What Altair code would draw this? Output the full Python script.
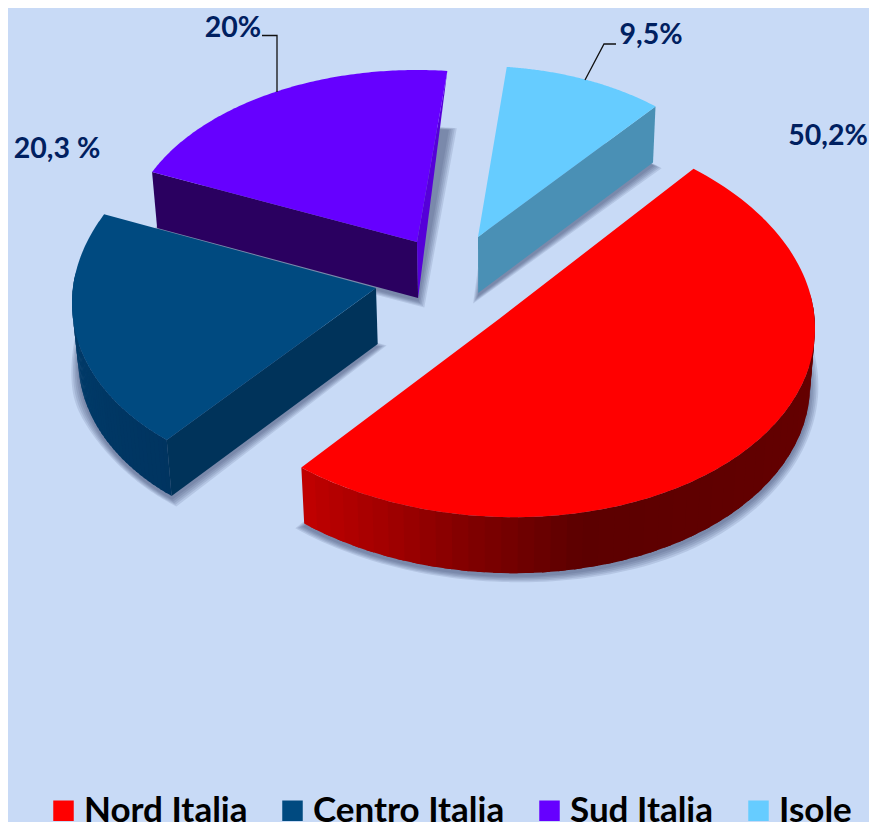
import math
import altair as alt

# --- chart values ---
regions = ["Nord Italia", "Centro Italia", "Sud Italia", "Isole"]
shares = [50.2, 20.3, 20.0, 9.5]
share_labels = ["50,2%", "20,3 %", "20%", "9,5%"]
top_colors = ["#ff0000", "#004a80", "#6600ff", "#66ccff"]

# --- tilted-pie geometry (page px): centre x/y, semi-axes, start angle per slice ---
M = 8
GEOM = {
    "Nord Italia": dict(cx=499, cy=319, a=316, b=198, start=52, shear=0.03),
    "Centro Italia": dict(cx=376, cy=288, a=304, b=195, start=-133.5, shear=-0.05),
    "Sud Italia": dict(cx=417, cy=242, a=290, b=172, start=156, shear=0),
    "Isole": dict(cx=478, cy=237, a=275, b=171, start=84, shear=0),
}
DEPTH = 56
VANISH_X, SHRINK = 490, 0.985
WALLS = {
    "Nord Italia": dict(stops=[(-128, "#c00000"), (-110, "#a00000"), (-95, "#800000"), (-75, "#5c0000"), (0, "#660000"), (60, "#660000")]),
    "Centro Italia": dict(stops=[(-207, "#004070"), (-133, "#003460")], a_face="#00335a"),
    "Sud Italia": dict(stops=[(83, "#2a0060"), (156, "#2a0060")], a_face="#2a0060", b_sliver="#5500d8"),
    "Isole": dict(stops=[(49, "#4a90b5"), (85, "#4a90b5")], b_face="#4a90b5"),
}
DRAW_ORDER = ["Sud Italia", "Isole", "Centro Italia", "Nord Italia"]

label_pos = {"Nord Italia": (828, 136), "Centro Italia": (57, 148.5), "Sud Italia": (233, 27.5), "Isole": (651, 35)}
leaders = [[(262, 35.5), (277, 35.5), (277, 92)], [(616, 44), (604, 44), (585, 80)]]

STEPS = 120     # arc resolution
BAND = 2        # arc steps per wall colour band


def rim(g, deg):
    t = math.radians(deg)
    dx = g["a"] * math.cos(t)
    return (g["cx"] + dx, g["cy"] - g["b"] * math.sin(t) + g["shear"] * dx)


def drop(p):
    return (VANISH_X + (p[0] - VANISH_X) * SHRINK, p[1] + DEPTH)


def hexmix(c1, c2, f):
    a = [int(c1[i:i + 2], 16) for i in (1, 3, 5)]
    b = [int(c2[i:i + 2], 16) for i in (1, 3, 5)]
    return "#%02x%02x%02x" % tuple(round(x + (y - x) * f) for x, y in zip(a, b))


def wall_color(stops, deg):
    stops = sorted(stops)
    if deg <= stops[0][0]:
        return stops[0][1]
    for (d0, c0), (d1, c1) in zip(stops, stops[1:]):
        if deg <= d1:
            return hexmix(c0, c1, (deg - d0) / (d1 - d0))
    return stops[-1][1]


def poly(points, **props):
    ring = [[round(x - M, 2), round(y - M, 2)] for x, y in points]
    ring.append(ring[0])
    return {"type": "Feature", "geometry": {"type": "Polygon", "coordinates": [ring]}, "properties": props}


def grown(points, d):
    mx = sum(p[0] for p in points) / len(points)
    my = sum(p[1] for p in points) / len(points)
    out = []
    for x, y in points:
        r = math.hypot(x - mx, y - my) or 1
        out.append((x + (x - mx) / r * d, y + (y - my) / r * d + 3))
    return out


shadow_features = []
features_by_region = {}
for region, share in zip(regions, shares):
    g = GEOM[region]
    w = WALLS[region]
    span = share * 3.6
    degs = [g["start"] - span * i / STEPS for i in range(STEPS + 1)]
    arc = [rim(g, d) for d in degs]
    apex = (g["cx"], g["cy"])
    outline = [drop(apex)] + [drop(p) for p in arc]
    for d in (9, 7, 5, 3, 1):
        shadow_features.append(poly(grown(outline, d)))
    side = []
    for i in range(0, STEPS, BAND):
        mid = degs[min(i + BAND // 2, STEPS)]
        if math.sin(math.radians(mid)) > 0.15:
            continue                     # far side of the rim is hidden
        seg = arc[i:i + BAND + 2]        # one step of overlap hides the seams
        side.append(poly(seg + [drop(p) for p in reversed(seg)], fill=wall_color(w["stops"], mid)))
    if "a_face" in w:
        side.append(poly([apex, arc[0], drop(arc[0]), drop(apex)], fill=w["a_face"]))
    if "b_face" in w:
        side.append(poly([apex, arc[-1], drop(arc[-1]), drop(apex)], fill=w["b_face"]))
    if "b_sliver" in w:
        side.append(poly([apex, arc[-1], drop(apex)], fill=w["b_sliver"]))
    features_by_region[region] = (side, poly([apex] + arc, region=region))

color_scale = alt.Scale(domain=regions, range=top_colors)
legend = alt.Legend(
    title=None, orient="none", legendX=38, legendY=785, direction="horizontal", columns=4,
    symbolType="square", symbolSize=420, symbolStrokeWidth=0, symbolOpacity=1,
    labelFont="Lato", labelFontWeight="bold", labelFontSize=35, labelColor="#000000",
    labelOffset=3, columnPadding=27, labelLimit=300, gridAlign="each",
)

layers = [
    alt.Chart(alt.Data(values=shadow_features)).mark_geoshape(fill="#2d3f66", fillOpacity=0.13, stroke=None)
    .project(type="identity", scale=1, translate=[0, 0])
]
for region in DRAW_ORDER:
    side, top = features_by_region[region]
    layers.append(
        alt.Chart(alt.Data(values=side)).mark_geoshape(stroke=None, opacity=1)
        .encode(fill=alt.Fill("properties.fill:N", scale=None, legend=None))
        .project(type="identity", scale=1, translate=[0, 0])
    )
    layers.append(
        alt.Chart(alt.Data(values=[top])).mark_geoshape(stroke=None, opacity=1)
        .encode(color=alt.Color("properties.region:N", scale=color_scale, legend=legend))
        .project(type="identity", scale=1, translate=[0, 0])
    )

leader_rows = [{"leader": i, "ord": j, "x": x - M, "y": y - M} for i, pts in enumerate(leaders) for j, (x, y) in enumerate(pts)]
layers.append(
    alt.Chart(alt.Data(values=leader_rows)).mark_line(color="#111111", strokeWidth=1.3)
    .encode(x=alt.X("x:Q", scale=None, axis=None), y=alt.Y("y:Q", scale=None, axis=None),
            detail="leader:N", order="ord:Q")
)
label_rows = [{"t": t, "x": label_pos[r][0] - M, "y": label_pos[r][1] - M} for r, t in zip(regions, share_labels)]
layers.append(
    alt.Chart(alt.Data(values=label_rows)).mark_text(font="Lato", fontWeight="bold", fontSize=28.5, color="#002060", baseline="middle", align="center")
    .encode(x=alt.X("x:Q", scale=None, axis=None), y=alt.Y("y:Q", scale=None, axis=None), text="t:N")
)

chart = (
    alt.layer(*layers)
    .properties(width=861, height=814, background="#c8daf6", padding=0, autosize=alt.AutoSizeParams(type="none"))
    .configure_view(stroke=None)
)
chart.save("out.html", embed_options={"renderer": "svg", "actions": False})
